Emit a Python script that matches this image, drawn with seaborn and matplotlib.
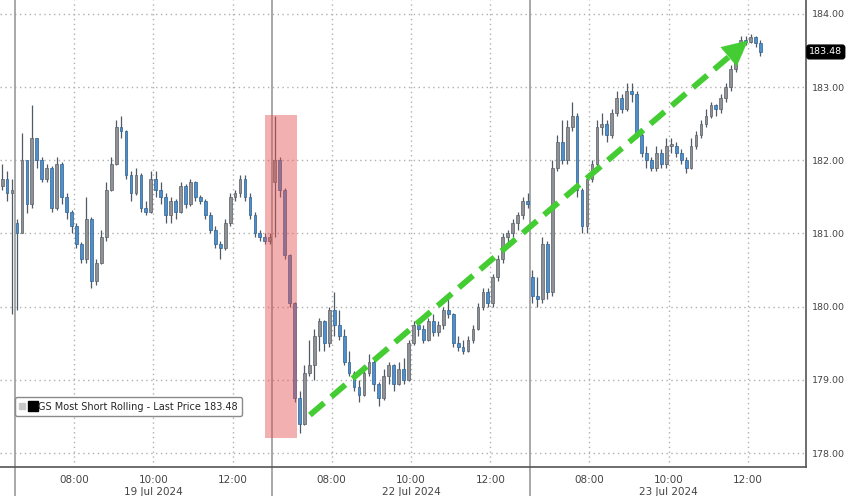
import numpy as np
import pandas as pd
import matplotlib
matplotlib.use('Agg')
import matplotlib.pyplot as plt
import matplotlib.transforms as mtransforms
from matplotlib.lines import Line2D
from matplotlib.patches import Rectangle
from matplotlib.legend_handler import HandlerTuple
import seaborn as sns

# data: bars of 7.5 min, open = previous close
days = ['19 Jul 2024', '22 Jul 2024', '23 Jul 2024']
hour_labels = ['08:00', '10:00', '12:00']
y_ticks = [178, 179, 180, 181, 182, 183, 184]
last_price = 183.48
series_name = 'GS Most Short Rolling - Last Price 183.48'

# end of 18 Jul
pre_open = 181.65
pre_close = [181.75, 181.55, 181.6]
pre_high = [181.95, 181.85, 181.75]
pre_low = [181.6, 181.45, 179.9]

day_open = [181.15, 181.7, 180.4]

close_19 = [181.0, 182.0, 181.4, 182.3, 182.0, 181.75, 181.9, 181.35, 181.95, 181.5,
            181.3, 181.1, 180.85, 180.65, 181.2, 180.35, 180.6, 180.95, 181.6, 181.95,
            182.45, 182.4, 181.8, 181.55, 181.8, 181.35, 181.3, 181.75, 181.6, 181.5,
            181.25, 181.45, 181.3, 181.65, 181.4, 181.7, 181.5, 181.45, 181.25, 181.05,
            180.85, 180.8, 181.15, 181.5, 181.55, 181.75, 181.5, 181.25, 181.0, 180.95,
            180.9, 180.95]
high_19 = [181.2, 182.37, 182.0, 182.75, 182.3, 182.05, 181.95, 181.92, 182.05, 181.97,
           181.55, 181.32, 181.15, 180.88, 181.5, 181.22, 180.65, 181.05, 181.7, 182.05,
           182.55, 182.6, 182.42, 181.85, 181.9, 181.82, 181.45, 181.85, 181.85, 181.7,
           181.55, 181.5, 181.47, 181.7, 181.67, 181.75, 181.72, 181.52, 181.47, 181.3,
           181.1, 180.9, 181.2, 181.55, 181.6, 181.8, 181.8, 181.55, 181.3, 181.05,
           181.0, 181.0]
low_19 = [179.95, 181.0, 181.28, 181.35, 181.9, 181.7, 181.7, 181.3, 181.32, 181.4,
          181.2, 181.0, 180.8, 180.6, 180.6, 180.25, 180.3, 180.58, 180.9, 181.58,
          181.93, 182.3, 181.75, 181.45, 181.52, 181.3, 181.25, 181.28, 181.5, 181.4,
          181.15, 181.15, 181.2, 181.28, 181.35, 181.38, 181.45, 181.4, 181.2, 181.0,
          180.8, 180.65, 180.78, 181.1, 181.45, 181.5, 181.45, 181.2, 180.95, 180.9,
          180.85, 180.85]

close_22 = [182.0, 181.6, 180.7, 180.05, 178.75, 178.4, 179.1, 179.2, 179.6, 179.8,
            179.5, 179.95, 179.75, 179.6, 179.25, 179.1, 178.9, 178.8, 179.1, 179.25,
            178.95, 178.75, 179.05, 179.2, 178.95, 179.15, 179.0, 179.5, 179.75, 179.7,
            179.55, 179.8, 179.65, 179.75, 179.95, 179.9, 179.5, 179.45, 179.4, 179.55,
            179.7, 180.0, 180.2, 180.05, 180.4, 180.65, 180.95, 181.0, 181.15, 181.25,
            181.45, 181.4]
high_22 = [182.6, 182.05, 181.62, 180.72, 180.07, 178.85, 179.2, 179.55, 179.7, 179.85,
           179.82, 180.0, 180.2, 179.95, 179.7, 179.4, 179.12, 179.0, 179.2, 179.35,
           179.27, 178.97, 179.15, 179.25, 179.22, 179.25, 179.3, 179.55, 179.8, 179.8,
           179.75, 179.85, 179.9, 179.8, 180.0, 180.15, 179.92, 179.6, 179.55, 179.6,
           179.75, 180.05, 180.25, 180.25, 180.45, 180.7, 181.0, 181.05, 181.2, 181.3,
           181.5, 181.55]
low_22 = [180.95, 181.5, 180.65, 180.0, 178.7, 178.28, 178.38, 179.05, 179.0, 179.4,
          179.4, 179.45, 179.6, 179.55, 179.2, 179.05, 178.85, 178.7, 178.78, 179.05,
          178.85, 178.65, 178.73, 178.95, 178.85, 178.93, 178.95, 178.98, 179.48, 179.6,
          179.5, 179.53, 179.6, 179.6, 179.7, 179.85, 179.45, 179.4, 179.35, 179.38,
          179.5, 179.68, 179.95, 180.0, 180.0, 180.35, 180.6, 180.85, 180.95, 181.05,
          181.2, 181.35]

close_23 = [180.15, 180.1, 180.85, 180.2, 181.9, 182.25, 182.0, 182.45, 182.6, 181.6,
            181.1, 181.75, 181.95, 182.45, 182.5, 182.35, 182.65, 182.85, 182.7, 182.95,
            182.9, 182.35, 182.1, 182.0, 181.9, 182.1, 181.95, 182.2, 182.2, 182.1,
            182.0, 181.9, 182.2, 182.35, 182.5, 182.6, 182.75, 182.7, 182.85, 183.0,
            183.25, 183.5, 183.65, 183.62, 183.68, 183.6, 183.48]
high_23 = [180.5, 180.4, 180.95, 180.9, 182.0, 182.35, 182.55, 182.55, 182.8, 182.65,
           181.62, 181.8, 182.0, 182.55, 182.65, 182.55, 182.7, 182.95, 182.9, 183.05,
           183.05, 182.95, 182.4, 182.2, 182.05, 182.2, 182.15, 182.3, 182.3, 182.25,
           182.15, 182.05, 182.3, 182.4, 182.55, 182.7, 182.8, 182.77, 182.9, 183.05,
           183.3, 183.55, 183.7, 183.7, 183.72, 183.7, 183.65]
low_23 = [180.05, 180.0, 180.05, 180.1, 180.15, 181.85, 181.95, 181.95, 182.4, 181.5,
          181.0, 181.0, 181.7, 181.9, 182.35, 182.25, 182.3, 182.6, 182.65, 182.68,
          182.8, 182.3, 182.05, 181.9, 181.85, 181.85, 181.9, 181.9, 182.1, 182.05,
          181.95, 181.82, 181.88, 182.15, 182.3, 182.45, 182.58, 182.6, 182.65, 182.8,
          182.95, 183.2, 183.45, 183.58, 183.6, 183.55, 183.42]

# build one table, x = trading hours since 19 Jul open (06:30), sessions 6.5 h long
SESSION = 6.5
STEP = 1 / 8
frames = []
t_pre = [-(len(pre_close) - i - 0.5) * STEP for i in range(len(pre_close))]
o_pre = [pre_open] + pre_close[:-1]
frames.append(pd.DataFrame({'t': t_pre, 'open': o_pre, 'high': pre_high,
                            'low': pre_low, 'close': pre_close}))
for s, (c, h, l) in enumerate([(close_19, high_19, low_19),
                               (close_22, high_22, low_22),
                               (close_23, high_23, low_23)]):
    t = [s * SESSION + (i + 0.5) * STEP for i in range(len(c))]
    o = [day_open[s]] + c[:-1]
    frames.append(pd.DataFrame({'t': t, 'open': o, 'high': h, 'low': l, 'close': c}))
df = pd.concat(frames, ignore_index=True)
df['high'] = df[['open', 'high', 'close']].max(axis=1)
df['low'] = df[['open', 'low', 'close']].min(axis=1)
up = df['close'] >= df['open']

sns.set_style('white')
plt.rcParams['font.family'] = ['DejaVu Sans']

fig = plt.figure(figsize=(8.48, 4.96), dpi=100)
ax = fig.add_axes([0, 0.0585, 806 / 848, 0.9415])

# candles
ax.vlines(df['t'], df['low'], df['high'], color='#505a66', lw=0.9, zorder=3)
body_bottom = df[['open', 'close']].min(axis=1)
body_h = (df['close'] - df['open']).abs().clip(lower=0.025)
ax.bar(df['t'], body_h, bottom=body_bottom, width=0.07,
       color=np.where(up, '#8e9296', '#4f8fcb'),
       edgecolor=np.where(up, '#5b5f63', '#2f5f8f'), lw=0.5, zorder=4)

# red highlight
ax.add_patch(Rectangle((6.32, 178.2), 0.80, 4.42, facecolor='#e65050',
                       edgecolor='none', alpha=0.45, zorder=5))

# green dashed trend arrow
green = '#44cc33'
ax.plot([7.45, 18.05], [178.52, 183.43], color=green, lw=4.2,
        ls=(0, (3.2, 1.6)), zorder=6)
ax.annotate('', xy=(18.55, 183.66), xytext=(18.0, 183.41),
            arrowprops=dict(arrowstyle='-|>,head_length=0.9,head_width=0.45',
                            color=green, lw=0.1, mutation_scale=20), zorder=6)

# session separators
for s in range(3):
    ax.axvline(s * SESSION, ymin=-0.065, ymax=1, color='#9a9a9a', lw=1.2,
               clip_on=False, zorder=2)

ax.set_xlim(-0.366, 19.96)
ax.set_ylim(177.81, 184.19)

# x ticks
major = []
labels = []
minor = []
for s, d in enumerate(days):
    for k, lab in enumerate(hour_labels):
        major.append(s * SESSION + 1.5 + 2 * k)
        labels.append(lab + ('\n' + d if k == 1 else ''))
        minor.append(s * SESSION + 0.5 + 2 * k)
ax.set_xticks(major)
ax.set_xticklabels(labels, fontsize=7.5, color='#444444', linespacing=1.25)
ax.set_xticks(minor, minor=True)
ax.tick_params(axis='x', which='both', direction='out', length=3, width=1,
               color='#555555', pad=3)

# y ticks on the right
ax.yaxis.tick_right()
ax.set_yticks(y_ticks)
ax.set_yticklabels([f'{v:.2f}' for v in y_ticks], fontsize=6.8, color='#444444')
ax.tick_params(axis='y', direction='out', length=3, width=2, color='black', pad=1.5)

ax.grid(True, which='major', ls=(0, (1, 2.5)), color='#b0b0b0', lw=1)
ax.set_axisbelow(True)
sns.despine(ax=ax, left=True, top=True, right=False)
for side in ['right', 'bottom']:
    ax.spines[side].set_color('#555555')
    ax.spines[side].set_linewidth(1.2)

# last price tag
trans = mtransforms.blended_transform_factory(ax.transAxes, ax.transData)
ax.text(1.004, last_price, f'{last_price:.2f}', transform=trans, ha='left',
        va='center', fontsize=6.8, color='white', zorder=10, clip_on=False,
        bbox=dict(boxstyle='round,pad=0.25', fc='black', ec='black'))

# legend
h_grey = Line2D([], [], marker='s', color='#c8c8c8', ms=4, ls='none')
h_black = Line2D([], [], marker='s', color='black', ms=6.5, ls='none')
leg = ax.legend([(h_grey, h_black)], [series_name],
                handler_map={tuple: HandlerTuple(ndivide=None, pad=0.6)},
                loc='upper left', bbox_to_anchor=(0.013, 0.16), fontsize=7,
                handlelength=1.6, handletextpad=0.3, borderpad=0.45,
                frameon=True, fancybox=True, framealpha=1)
leg.get_frame().set_edgecolor('#8a8a8a')
leg.get_frame().set_linewidth(1)

plt.savefig('out.png', dpi=100)
